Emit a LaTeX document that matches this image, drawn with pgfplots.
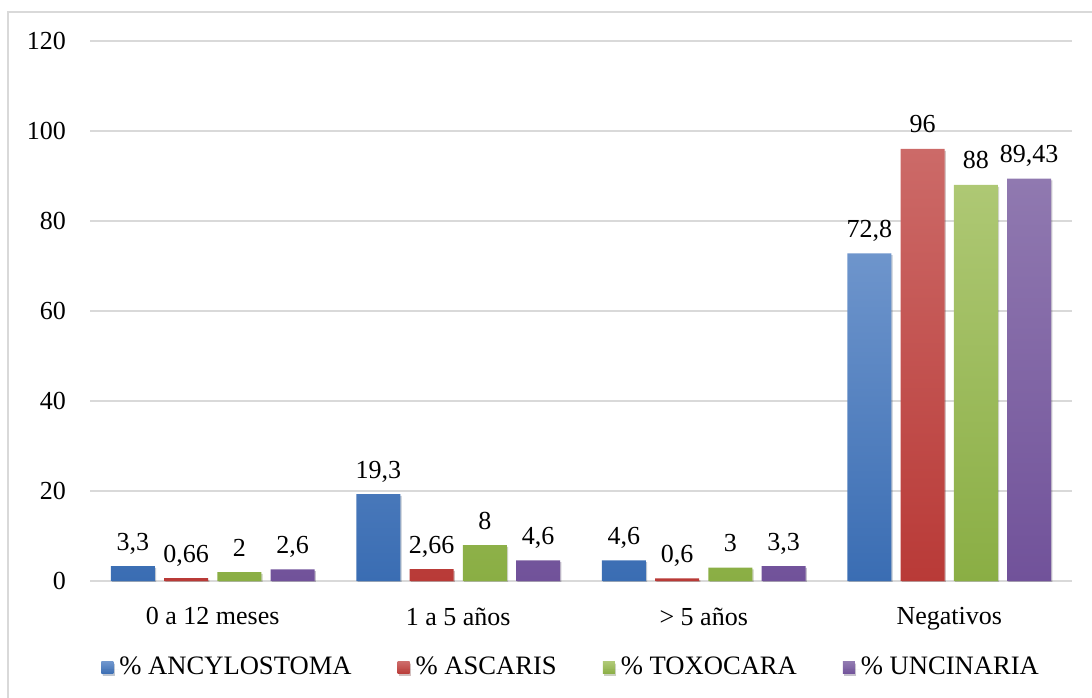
\documentclass[border=0pt]{standalone}
\usepackage{fontspec}
\setmainfont{Liberation Serif}
\usepackage{pgfplots}
\pgfplotsset{compat=1.18}

\definecolor{gridgray}{HTML}{D9D9D9}
\definecolor{blueT}{HTML}{6E95CC}
\definecolor{blueB}{HTML}{3A6DB3}
\definecolor{redT}{HTML}{CC6A68}
\definecolor{redB}{HTML}{B93A37}
\definecolor{greenT}{HTML}{AEC874}
\definecolor{greenB}{HTML}{8AAE44}
\definecolor{purpT}{HTML}{9079B0}
\definecolor{purpB}{HTML}{71529A}

\begin{document}
\fontsize{13}{15.5}\selectfont
\begin{tikzpicture}
\path[use as bounding box] (0,0) rectangle (546pt,348.5pt);
\draw[gridgray, line width=0.8pt] (4pt,-20pt) rectangle (570pt,342.5pt);
\begin{axis}[
  at={(45pt,58pt)}, anchor=south west,
  scale only axis, width=491pt, height=270pt,
  ymin=0, ymax=120, ytick={0,20,...,120},
  xmin=-0.5, xmax=3.5, xtick={0,1,2,3},
  xticklabels={0 a 12 meses, 1 a 5 años, > 5 años, Negativos},
  axis line style={draw=none}, tick style={draw=none},
  ymajorgrids, grid style={gridgray, line width=0.8pt},
  ybar=4.6pt, bar width=22pt,
  tick label style={font=\fontsize{13}{15.5}\selectfont},
  yticklabel style={xshift=-7.5pt},
  xticklabel style={yshift=-4.5pt},
  /pgf/number format/.cd, use comma, assume math mode=true, 1000 sep={},
  /pgfplots/.cd,
  nodes near coords,
  every node near coord/.append style={font=\fontsize{13}{15.5}\selectfont, text=black, anchor=base, yshift=8pt},
  legend columns=4,
  legend style={at={(0.49,-0.161)}, anchor=center, draw=none, fill=none,
    font=\fontsize{13.3}{16}\selectfont,
    /tikz/every even column/.append style={column sep=22pt},
    nodes={inner sep=1pt}},
  legend image code/.code={\path[#1, draw=none] (0pt,-3pt) rectangle (6pt,3pt);
    \path (0pt,0pt) -- (8pt,0pt);},
  every axis plot/.append style={draw=none,
    preaction={fill=black, opacity=0.16, transform canvas={xshift=0.6pt, yshift=-0.9pt}}},
]
\addplot[top color=blueT, bottom color=blueB] coordinates {(0,3.3) (1,19.3) (2,4.6) (3,72.8)};
\addplot[top color=redT, bottom color=redB] coordinates {(0,0.66) (1,2.66) (2,0.6) (3,96)};
\addplot[top color=greenT, bottom color=greenB] coordinates {(0,2) (1,8) (2,3) (3,88)};
\addplot[top color=purpT, bottom color=purpB] coordinates {(0,2.6) (1,4.6) (2,3.3) (3,89.43)};
\legend{\% ANCYLOSTOMA, \% ASCARIS, \% TOXOCARA, \% UNCINARIA}
\end{axis}
\end{tikzpicture}
\end{document}
